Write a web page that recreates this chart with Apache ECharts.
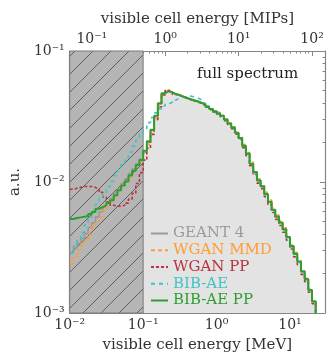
<!DOCTYPE html>
<html>
<head>
<meta charset="utf-8">
<script src="https://cdn.jsdelivr.net/npm/echarts@6/dist/echarts.min.js"></script>
<style>
html, body { margin: 0; padding: 0; background: #fff; }
#chart { width: 329px; height: 358px; }
</style>
</head>
<body>
<div id="chart"></div>
<script>
// log binning of the histograms: 20 bins per decade, first edge at 10^-2 MeV
var binStart = -2, binsPerDecade = 20;

var geant4 = [0.00289, 0.00312, 0.00340, 0.00370, 0.00404, 0.00449, 0.00489, 0.00542, 0.00591, 0.00644,
  0.00690, 0.00751, 0.00819, 0.00893, 0.00975, 0.0106, 0.0116, 0.0126, 0.0138, 0.0150,
  0.0169, 0.0201, 0.0247, 0.0315, 0.0394, 0.0468,
  0.0493, 0.0481, 0.0468, 0.0460, 0.0449, 0.0437, 0.0427, 0.0420, 0.0413, 0.0401,
  0.0388, 0.0375, 0.0361, 0.0346, 0.0335, 0.0320, 0.0299, 0.0279, 0.0260, 0.0237,
  0.0216, 0.0188, 0.0164, 0.0137, 0.0118, 0.0102, 0.00925, 0.00805, 0.00702, 0.00612,
  0.00542, 0.00488, 0.00433, 0.00378, 0.00323, 0.00281, 0.00245, 0.00206, 0.00180, 0.00149,
  0.00122, 0.00095];
var wganMmd = [0.00237, 0.00267, 0.00301, 0.00329, 0.00359, 0.00397, 0.00449, 0.00497, 0.00542, 0.00600,
  0.00665, 0.00727, 0.00778, 0.00864, 0.00940, 0.0101, 0.0110, 0.0122, 0.0133, 0.0147,
  0.0166, 0.0194, 0.0239, 0.0304, 0.0388, 0.0468,
  0.0490, 0.0478, 0.0470, 0.0458, 0.0450, 0.0440, 0.0428, 0.0418, 0.0410, 0.0400,
  0.0390, 0.0376, 0.0362, 0.0348, 0.0336, 0.0322, 0.0302, 0.0282, 0.0264, 0.0241,
  0.0220, 0.0193, 0.0168, 0.0142, 0.0122, 0.0106, 0.00960, 0.00835, 0.00728, 0.00636,
  0.00560, 0.00505, 0.00447, 0.00390, 0.00333, 0.00290, 0.00252, 0.00212, 0.00184, 0.00152,
  0.00124, 0.00090];
var wganPp = [0.00880, 0.00895, 0.00910, 0.00925, 0.00925, 0.00925, 0.00910, 0.00880, 0.00834, 0.00765,
  0.00702, 0.00665, 0.00654, 0.00654, 0.00665, 0.00690, 0.00740, 0.00819, 0.00975, 0.0118,
  0.0147, 0.0181, 0.0231, 0.0299, 0.0374, 0.0461,
  0.0502, 0.0485, 0.0466, 0.0457, 0.0446, 0.0434, 0.0425, 0.0416, 0.0408, 0.0397,
  0.0384, 0.0371, 0.0357, 0.0342, 0.0330, 0.0315, 0.0294, 0.0274, 0.0255, 0.0232,
  0.0211, 0.0183, 0.0159, 0.0133, 0.0114, 0.0098, 0.00890, 0.00772, 0.00672, 0.00585,
  0.00518, 0.00466, 0.00413, 0.00360, 0.00308, 0.00268, 0.00234, 0.00197, 0.00173, 0.00144,
  0.00118, 0.00088];
var bibAe = [0.00290, 0.00323, 0.00363, 0.00411, 0.00472, 0.00537, 0.00600, 0.00677, 0.00751, 0.00834,
  0.00925, 0.0101, 0.0112, 0.0124, 0.0137, 0.0153, 0.0169, 0.0188, 0.0209, 0.0231,
  0.0256, 0.0284, 0.0310, 0.0337, 0.0361, 0.0380,
  0.0394, 0.0408, 0.0423, 0.0437, 0.0445, 0.0449, 0.0453, 0.0445, 0.0437, 0.0423,
  0.0400, 0.0380, 0.0363, 0.0347, 0.0334, 0.0318, 0.0298, 0.0278, 0.0259, 0.0236,
  0.0214, 0.0187, 0.0162, 0.0136, 0.0117, 0.0101, 0.00920, 0.00800, 0.00698, 0.00608,
  0.00538, 0.00484, 0.00430, 0.00376, 0.00320, 0.00279, 0.00243, 0.00204, 0.00178, 0.00147,
  0.00121, 0.00092];
var bibAePp = [0.00522, 0.00531, 0.00537, 0.00542, 0.00550, 0.00570, 0.00591, 0.00625, 0.00644, 0.00665,
  0.00690, 0.00727, 0.00792, 0.00864, 0.00940, 0.0101, 0.0112, 0.0122, 0.0135, 0.0147,
  0.0173, 0.0205, 0.0251, 0.0320, 0.0400, 0.0476,
  0.0493, 0.0483, 0.0469, 0.0461, 0.0448, 0.0438, 0.0428, 0.0419, 0.0412, 0.0402,
  0.0389, 0.0374, 0.0360, 0.0347, 0.0334, 0.0321, 0.0300, 0.0280, 0.0261, 0.0238,
  0.0217, 0.0189, 0.0165, 0.0138, 0.0119, 0.0103, 0.00930, 0.00810, 0.00706, 0.00615,
  0.00545, 0.00490, 0.00436, 0.00381, 0.00325, 0.00283, 0.00247, 0.00208, 0.00182, 0.00150,
  0.00123, 0.00094];

var names = ['GEANT 4', 'WGAN MMD', 'WGAN PP', 'BIB-AE', 'BIB-AE PP'];
var colors = ['#9a9a9a', '#ff9d2e', '#b8333d', '#3fc3c6', '#2f9e2f'];

var xTicks = [0.01, 0.1, 1, 10];
var xTickLabels = ['10⁻²', '10⁻¹', '10⁰', '10¹'];
var mipTicks = [0.1, 1, 10, 100];
var mipTickLabels = ['10⁻¹', '10⁰', '10¹', '10²'];
var yTicks = [0.001, 0.01, 0.1];
var yTickLabels = ['10⁻³', '10⁻²', '10⁻¹'];
var cutMeV = 0.1;   // shaded region below the cut

var font = 'DejaVu Serif';
var edges = [];
for (var k = 0; k <= geant4.length; k++) edges.push(Math.pow(10, binStart + k / binsPerDecade));

function hist(values) {
  var pts = [];
  for (var i = 0; i < values.length; i++) pts.push([edges[i], values[i]]);
  pts.push([edges[values.length], values[values.length - 1]]);
  return pts;
}

// 2..9 times each decade, strictly inside (lo, hi)
function minorTicks(lo, hi) {
  var out = [];
  for (var e = -4; e <= 3; e++) {
    for (var m = 2; m <= 9; m++) {
      var v = m * Math.pow(10, e);
      if (v > lo * 1.001 && v < hi * 0.999) out.push(v);
    }
  }
  return out;
}

function fmt(ticks, labels) {
  return function (v) {
    for (var i = 0; i < ticks.length; i++) {
      if (Math.abs(v / ticks[i] - 1) < 1e-6) return labels[i];
    }
    return '';
  };
}

function hatch() {
  var s = 18, c = document.createElement('canvas');
  c.width = s; c.height = s;
  var g = c.getContext('2d');
  g.fillStyle = '#b5b5b5';
  g.fillRect(0, 0, s, s);
  g.strokeStyle = '#5e5e5e';
  g.lineWidth = 1;
  g.beginPath();
  g.moveTo(0, s); g.lineTo(s, 0);
  g.moveTo(-2, 2); g.lineTo(2, -2);
  g.moveTo(s - 2, s + 2); g.lineTo(s + 2, s - 2);
  g.stroke();
  return c;
}

function axis(pos, min, max, ticks, labels, minor, name, nameGap) {
  var a = {
    type: 'log', logBase: 10, position: pos, min: min, max: max,
    splitLine: { show: false },
    axisLine: { show: !minor, onZero: false, lineStyle: { color: '#858585', width: 1.2 } },
    axisTick: { inside: true, length: minor ? 2.5 : 5, customValues: ticks, lineStyle: { color: '#858585', width: 1 } },
    axisLabel: { show: !minor && !!labels, customValues: ticks, formatter: labels ? fmt(ticks, labels) : '',
      margin: 5, fontFamily: font, fontSize: 14, color: '#333' }
  };
  if (name) {
    a.name = name;
    a.nameLocation = 'middle';
    a.nameGap = nameGap;
    a.nameTextStyle = { fontFamily: font, fontSize: 15, color: '#333' };
  }
  return a;
}

var lineSeries = [geant4, wganMmd, wganPp, bibAe, bibAePp].map(function (vals, i) {
  var dash = [null, [4, 3], [3, 2], [4, 4], null][i];
  return {
    name: names[i], type: 'line', data: hist(vals), step: 'end', symbol: 'none', z: 5 + i,
    lineStyle: { color: colors[i], width: i === 4 ? 2 : 1.6, type: dash || 'solid' },
    itemStyle: { color: colors[i] }
  };
});

var chart = echarts.init(document.getElementById('chart'));
chart.setOption({
  animation: false,
  grid: { left: 60, right: 4, top: 51, bottom: 39 },
  title: { text: 'full spectrum', left: 192, top: 62,
    textStyle: { fontFamily: font, fontSize: 15, fontWeight: 'normal', color: '#222' } },
  legend: {
    orient: 'vertical', left: 150, top: 226, padding: 0,
    itemWidth: 17, itemHeight: 14, itemGap: 1.75,
    selectedMode: false,
    itemStyle: { opacity: 0 },
    textStyle: { fontFamily: font, fontSize: 15, lineHeight: 14 },
    data: names.map(function (n, i) { return { name: n, textStyle: { color: colors[i] } }; })
  },
  xAxis: [
    axis('bottom', 0.01, 30, xTicks, xTickLabels, false, 'visible cell energy [MeV]', 25),
    axis('top', 0.05, 150, mipTicks, mipTickLabels, false, 'visible cell energy [MIPs]', 24),
    axis('bottom', 0.01, 30, minorTicks(0.01, 30), null, true),
    axis('top', 0.05, 150, minorTicks(0.05, 150), null, true)
  ],
  yAxis: [
    axis('left', 0.001, 0.1, yTicks, yTickLabels, false, 'a.u.', 40),
    axis('right', 0.001, 0.1, yTicks, null, false),
    axis('left', 0.001, 0.1, minorTicks(0.001, 0.1), null, true),
    axis('right', 0.001, 0.1, minorTicks(0.001, 0.1), null, true)
  ],
  series: [
    { type: 'line', data: hist(geant4), step: 'end', symbol: 'none', silent: true, z: 1,
      lineStyle: { width: 0 }, areaStyle: { color: '#e3e3e3', origin: 'start', opacity: 1 } },
    { type: 'line', data: [], silent: true, z: 2,
      markArea: { silent: true, z: 2,
        itemStyle: { color: { image: hatch(), repeat: 'repeat' }, borderColor: '#7a7a7a', borderWidth: 1 },
        data: [[{ xAxis: 0.01, yAxis: 0.001 }, { xAxis: cutMeV, yAxis: 0.1 }]] } }
  ].concat(lineSeries)
});
</script>
</body>
</html>
